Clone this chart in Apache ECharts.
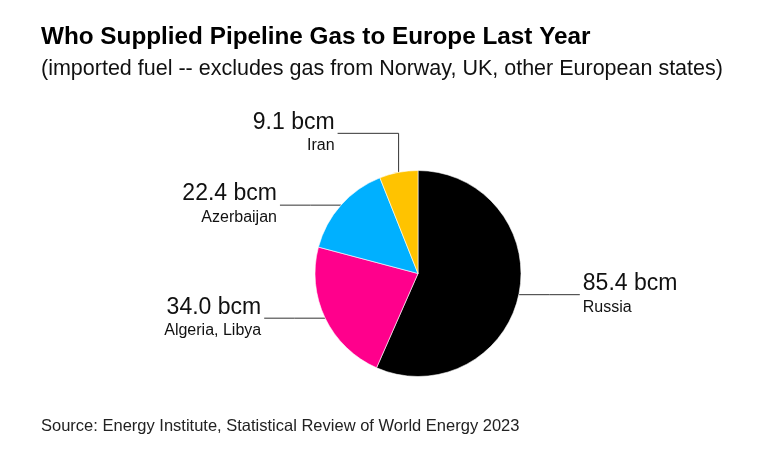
<!DOCTYPE html>
<html>
<head>
<meta charset="utf-8">
<script src="https://cdn.jsdelivr.net/npm/echarts@6/dist/echarts.min.js"></script>
<style>
html,body{margin:0;padding:0;background:#fff;}
#chart{width:764px;height:455px;}
</style>
</head>
<body>
<div id="chart"></div>
<script>
var categories = ['Russia', 'Algeria, Libya', 'Azerbaijan', 'Iran'];
var values = [85.4, 34.0, 22.4, 9.1];
var colors = ['#000000', '#FF008C', '#00B0FF', '#FFC300'];
var unit = 'bcm';
var titleText = 'Who Supplied Pipeline Gas to Europe Last Year';
var subtitleText = '(imported fuel -- excludes gas from Norway, UK, other European states)';
var sourceText = 'Source: Energy Institute, Statistical Review of World Energy 2023';

var FONT = '"Liberation Sans", Arial, sans-serif';
var CX = 418, CY = 273.5, R = 103;
var LEG = 61, GAP = 3, RISE = 39;

var chart = echarts.init(document.getElementById('chart'), null, {renderer: 'canvas'});

var data = categories.map(function (c, i) {
  return { name: c, value: values[i], itemStyle: { color: colors[i] } };
});

chart.setOption({
  animation: false,
  backgroundColor: '#ffffff',
  title: [
    { text: titleText, left: 41, top: 25, padding: 0,
      textStyle: { fontFamily: FONT, fontSize: 24.3, fontWeight: 'bold', color: '#000', lineHeight: 24 } },
    { text: subtitleText, left: 41, top: 58, padding: 0,
      textStyle: { fontFamily: FONT, fontSize: 21.5, fontWeight: 'normal', color: '#111', lineHeight: 22 } },
    { text: sourceText, left: 41, top: 417.5, padding: 0,
      textStyle: { fontFamily: FONT, fontSize: 16.5, fontWeight: 'normal', color: '#222', lineHeight: 17 } }
  ],
  series: [{
    type: 'pie',
    center: [CX, CY],
    radius: R,
    startAngle: 90,
    clockwise: true,
    avoidLabelOverlap: false,
    itemStyle: { borderColor: '#ffffff', borderWidth: 0.6 },
    emphasis: { disabled: true },
    data: data,
    label: {
      show: true,
      position: 'outside',
      fontFamily: FONT,
      color: '#111',
      formatter: function (p) {
        return '{v|' + p.value.toFixed(1) + ' ' + unit + '}\n{n|' + p.name + '}';
      },
      rich: {
        v: { fontFamily: FONT, fontSize: 23, lineHeight: 25, color: '#111' },
        n: { fontFamily: FONT, fontSize: 16, lineHeight: 22, color: '#111' }
      }
    },
    labelLine: {
      show: true,
      length: 0,
      length2: LEG,
      lineStyle: { color: '#333', width: 1 }
    },
    labelLayout: function (p) {
      var p0 = p.labelLinePoints[0];
      var name = categories[p.dataIndex];
      var left = p0[0] < CX;
      var dir = left ? -1 : 1;
      var pts, lineY, endX;
      if (name === 'Iran') {
        lineY = p0[1] - RISE;
        endX = p0[0] - LEG;
        pts = [[p0[0], p0[1]], [p0[0], lineY], [endX, lineY]];
      } else {
        lineY = p0[1];
        endX = p0[0] + dir * LEG;
        pts = [[p0[0], p0[1]], [p0[0] + dir * LEG / 2, lineY], [endX, lineY]];
      }
      return {
        x: endX + dir * GAP,
        y: lineY,
        align: left ? 'right' : 'left',
        verticalAlign: 'middle',
        labelLinePoints: pts
      };
    }
  }]
});
</script>
</body>
</html>
